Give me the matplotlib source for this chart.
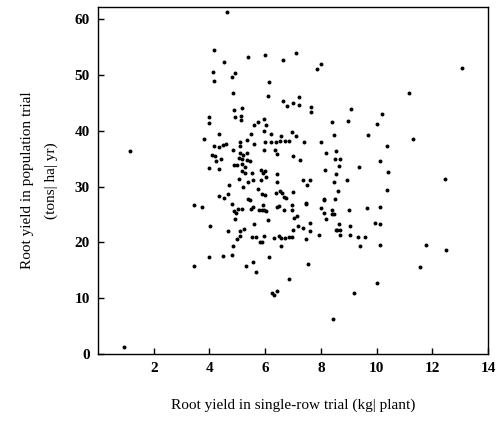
import matplotlib
matplotlib.use("Agg")
import matplotlib.pyplot as plt

# points: (single-row yield, population yield)
pts_top = [
    (4.63, 61.2), (4.15, 54.5), (4.54, 52.4), (5.38, 53.2), (6.01, 53.5), (6.63, 52.7),
    (7.12, 53.9), (7.99, 52.0), (7.87, 51.0), (4.14, 50.5), (4.16, 49.0), (4.93, 50.3),
    (4.81, 49.7), (6.15, 48.8), (4.83, 46.7), (6.10, 46.3), (6.63, 45.4), (6.80, 44.4),
    (7.0, 44.9), (7.2, 46.1), (7.2, 44.7), (4.87, 43.8), (5.17, 44.0), (3.99, 42.4),
    (3.97, 41.3), (4.90, 42.4), (5.13, 42.6), (5.14, 41.9), (5.6, 41.1), (5.75, 41.5),
    (5.95, 42.1), (6.04, 41.1), (7.63, 43.4), (7.63, 44.2), (9.09, 43.9), (10.2, 43.0),
    (8.40, 41.6), (8.96, 41.8), (10.0, 41.2), (11.16, 46.7), (13.05, 51.2), (11.3, 38.6),
    (12.46, 31.3),
]
pts_mid = [
    (4.33, 39.4), (3.82, 38.6), (5.5, 39.4), (5.97, 39.9), (6.22, 39.4), (6.57, 39.1),
    (6.96, 39.7), (7.1, 39.1), (8.46, 39.2), (9.7, 39.2), (5.11, 37.9), (5.35, 38.3),
    (5.61, 37.7), (6.0, 37.9), (6.2, 38.0), (6.4, 37.9), (6.52, 38.1), (6.72, 38.2),
    (6.85, 38.1), (7.38, 38.0), (7.99, 38.0), (10.36, 37.3), (4.15, 37.3), (4.33, 37.0),
    (4.48, 37.4), (4.59, 37.6), (4.84, 36.5), (5.1, 37.2), (5.97, 36.6), (6.37, 36.5),
    (6.42, 35.8), (5.1, 36.0), (5.22, 35.7), (5.35, 36.0), (4.09, 35.7), (4.2, 35.5),
    (4.41, 34.9), (4.24, 34.5), (5.05, 35.1), (5.17, 34.9), (5.35, 34.8), (5.47, 34.5),
    (7.0, 35.4), (7.24, 34.7), (8.19, 36.0), (8.56, 36.4), (8.49, 34.9), (8.7, 34.9),
    (10.14, 34.5), (4.87, 33.8), (5.0, 33.9), (5.17, 34.1), (5.26, 33.5), (4.0, 33.3),
    (4.36, 33.1), (5.17, 32.7), (5.29, 32.4), (5.53, 32.4), (5.86, 33.0), (5.92, 32.4),
    (6.0, 32.7), (6.42, 32.3), (8.64, 33.6), (9.36, 33.5), (8.14, 33.0), (8.53, 32.3),
    (10.4, 32.6), (5.07, 31.3), (5.38, 30.9), (5.56, 31.1), (5.86, 31.1), (6.04, 31.7),
    (6.42, 30.8), (7.36, 31.1), (7.5, 30.2), (7.6, 31.2), (8.46, 30.9), (8.94, 31.2),
    (4.69, 30.2), (5.19, 30.0), (5.76, 29.5), (8.6, 29.2), (10.38, 29.4), (4.33, 28.3),
    (4.51, 27.9), (4.65, 28.7), (5.4, 27.7), (5.89, 28.6), (6.0, 28.5), (6.4, 28.8),
    (6.52, 29.2), (6.6, 28.8), (6.68, 28.1), (6.76, 27.9), (7.0, 29.0), (8.1, 27.8),
    (8.49, 27.8), (7.45, 27.0), (1.15, 36.4),
]
pts_low = [
    (3.45, 26.7), (3.75, 26.3), (4.81, 26.8), (5.44, 27.6), (4.87, 25.7), (4.95, 25.2),
    (5.04, 26.0), (5.17, 26.0), (5.49, 25.9), (5.56, 26.4), (5.77, 25.8), (5.87, 25.8),
    (5.97, 25.8), (4.9, 24.2), (4.03, 23.0), (4.65, 22.1), (5.08, 22.1), (5.25, 22.4),
    (5.59, 23.3), (5.1, 21.1), (4.99, 20.6), (5.53, 21.0), (5.67, 21.0), (5.97, 21.2),
    (5.83, 20.0), (4.84, 19.4), (3.97, 17.4), (4.48, 17.5), (4.81, 17.7), (3.43, 15.8),
    (5.32, 15.8), (5.56, 16.5), (5.67, 14.7), (5.92, 26.7), (6.04, 25.6), (6.44, 26.3),
    (6.51, 26.6), (6.67, 25.8), (6.96, 26.7), (6.96, 25.8), (7.45, 26.9), (8.13, 27.6),
    (7.99, 26.1), (8.1, 25.2), (8.4, 25.8), (8.4, 25.1), (6.09, 24.0), (7.05, 24.4),
    (7.15, 24.8), (8.17, 24.2), (8.46, 25.0), (7.17, 23.0), (7.36, 22.5), (7.6, 23.4),
    (7.6, 22.1), (7.0, 22.2), (7.48, 20.6), (7.92, 21.4), (8.53, 22.2), (6.31, 20.7),
    (6.48, 21.2), (6.57, 20.7), (6.72, 20.7), (6.85, 21.0), (6.96, 21.0), (5.89, 20.1),
    (6.57, 19.4), (6.13, 17.3), (7.54, 16.1), (6.85, 13.4), (6.25, 11.0), (6.33, 10.6),
    (6.42, 11.2), (9.0, 25.8), (9.64, 26.1), (10.12, 26.4), (9.93, 23.4), (10.12, 23.3),
    (8.64, 23.2), (9.03, 22.9), (8.57, 22.3), (8.68, 22.3), (8.7, 21.4), (9.03, 21.4),
    (9.32, 21.0), (9.6, 21.0), (9.4, 19.4), (10.12, 19.5), (11.76, 19.5), (11.56, 15.6),
    (12.48, 18.6), (10.02, 12.7), (9.18, 10.9), (8.44, 6.2), (0.94, 1.2),
]

x_ticks = [2, 4, 6, 8, 10, 12, 14]
y_ticks = [0, 10, 20, 30, 40, 50, 60]

pts = pts_top + pts_mid + pts_low
xs = [p[0] for p in pts]
ys = [p[1] for p in pts]

serif = ["Liberation Serif", "DejaVu Serif"]

fig = plt.figure(figsize=(5.0, 4.28), dpi=100)
ax = fig.add_axes([0.196, 0.173, 0.78, 0.811])
ax.scatter(xs, ys, s=8, c="black", marker="o", linewidths=0)

ax.set_xlim(0, 14)
ax.set_ylim(0, 62.2)
ax.set_xticks(x_ticks)
ax.set_yticks(y_ticks)
ax.tick_params(direction="in", length=4, width=1, colors="black", pad=6)
for lab in ax.get_xticklabels() + ax.get_yticklabels():
    lab.set_fontfamily(serif)
    lab.set_fontweight("bold")
    lab.set_fontsize(11)
for sp in ax.spines.values():
    sp.set_linewidth(1.0)
    sp.set_color("black")

ax.set_xlabel("Root yield in single-row trial (kg| plant)", family=serif, fontsize=11, labelpad=17)
ax.set_ylabel("Root yield in population trial\n(tons| ha| yr)", family=serif, fontsize=11,
              labelpad=12, linespacing=2.0)

fig.savefig("out.png", dpi=100, facecolor="white")
